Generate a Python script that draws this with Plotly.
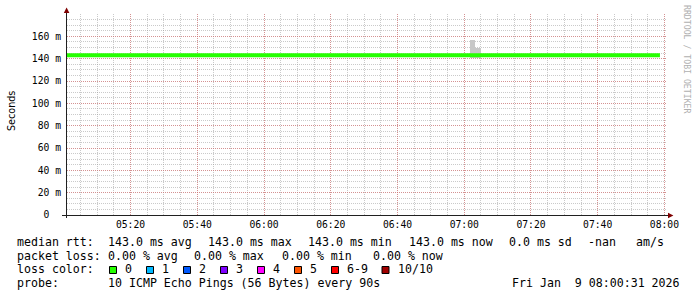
import plotly.graph_objects as go
import pandas as pd

# ---------------- data ----------------
DAY = "2026-01-09 "
x_range = ["05:00:58", "08:00:46"]
y_range = [0, 180]

median_times = ["05:00:58", "07:58:39"]
median_values = [143.0, 143.0]

smoke_start = ["07:01:43", "07:03:08"]
smoke_end = ["07:03:08", "07:04:56"]
smoke_low = [141.0, 141.0]
smoke_high = [157.0, 150.0]

x_tick_labels = ["05:20", "05:40", "06:00", "06:20", "06:40", "07:00", "07:20", "07:40", "08:00"]
y_tick_values = [0, 20, 40, 60, 80, 100, 120, 140, 160]
y_tick_labels = ["0\u00a0\u00a0", "20\u00a0m", "40\u00a0m", "60\u00a0m", "80\u00a0m",
                 "100\u00a0m", "120\u00a0m", "140\u00a0m", "160\u00a0m"]

rtt_label = "median rtt:"
rtt_items = ["143.0 ms avg", "143.0 ms max", "143.0 ms min", "143.0 ms now",
             "0.0 ms sd", "-nan", "am/s"]
loss_label = "packet loss:"
loss_items = ["0.00 % avg", "0.00 % max", "0.00 % min", "0.00 % now"]
color_label = "loss color:"
loss_color_labels = ["0", "1", "2", "3", "4", "5", "6-9", "10/10"]
loss_colors = ["#26ff00", "#00b8ff", "#0059ff", "#7e00ff", "#ff00ff", "#ff5500", "#ff0000", "#a10000"]
probe_label = "probe:"
probe_text = "10 ICMP Echo Pings (56 Bytes) every 90s"
date_text = "Fri Jan\u00a0\u00a09 08:00:31 2026"
y_title = "Seconds"
watermark = "RRDTOOL / TOBI OETIKER"

# ---------------- layout geometry (pixels) ----------------
W, H = 697, 297
L, R, T, B = 67, 30, 14, 82
PW, PH = W - L - R, H - T - B


def px(x):
    return (x - L) / PW


def py(y):
    return (H - B - y) / PH


MONO = "DejaVu Sans Mono"
LEG_FONT = dict(family=MONO, size=11.6, color="#000000")
AX_FONT = dict(family=MONO, size=9.7, color="#000000")
GRID_MINOR = "rgba(150,150,150,0.5)"
GRID_MAJOR = "rgba(220,100,100,0.55)"

fig = go.Figure()

# smoke
s0 = pd.to_datetime([DAY + t for t in smoke_start])
s1 = pd.to_datetime([DAY + t for t in smoke_end])
centers = s0 + (s1 - s0) / 2
widths = [(b - a).total_seconds() * 1000 for a, b in zip(s0, s1)]
fig.add_trace(go.Bar(
    x=centers, y=[h - l for h, l in zip(smoke_high, smoke_low)], base=smoke_low,
    width=widths, marker=dict(color="#c8c8c8", line=dict(width=0)),
    hoverinfo="skip", showlegend=False))

# median line
fig.add_trace(go.Scatter(
    x=[DAY + t for t in median_times], y=median_values, mode="lines",
    line=dict(color=loss_colors[0], width=4), showlegend=False, hoverinfo="skip"))

fig.update_layout(
    width=W, height=H, margin=dict(l=L, r=R, t=T, b=B, pad=0),
    paper_bgcolor="white", plot_bgcolor="white", showlegend=False, bargap=0,
    xaxis=dict(
        type="date", range=[DAY + x_range[0], DAY + x_range[1]],
        tickmode="array", tickvals=[DAY + t for t in x_tick_labels], ticktext=x_tick_labels,
        showgrid=True, gridcolor=GRID_MAJOR, griddash="1px,1px", gridwidth=1,
        minor=dict(tickmode="linear", tick0=DAY + "05:00:00", dtick=300000,
                   showgrid=True, gridcolor=GRID_MINOR, griddash="1px,1px", gridwidth=1),
        showline=False, zeroline=False, ticks="", tickfont=AX_FONT, ticklabelstandoff=2,
        fixedrange=True,
    ),
    yaxis=dict(
        range=y_range, tickmode="array", tickvals=y_tick_values, ticktext=y_tick_labels,
        showgrid=True, gridcolor=GRID_MAJOR, griddash="1px,1px", gridwidth=1,
        minor=dict(tickmode="linear", tick0=0, dtick=5,
                   showgrid=True, gridcolor=GRID_MINOR, griddash="1px,1px", gridwidth=1),
        showline=False, zeroline=False, ticks="", tickfont=AX_FONT, ticklabelstandoff=5,
        fixedrange=True,
    ),
)

shapes = []
# axes
shapes.append(dict(type="line", xref="paper", yref="paper", x0=px(62), x1=px(669),
                   y0=py(215.5), y1=py(215.5), line=dict(color="#202020", width=1)))
shapes.append(dict(type="line", xref="paper", yref="paper", x0=px(66.5), x1=px(66.5),
                   y0=py(218), y1=py(12), line=dict(color="#202020", width=1)))
# arrows
shapes.append(dict(type="path", xref="paper", yref="paper",
                   path=f"M {px(63.8)} {py(13)} L {px(69.4)} {py(13)} L {px(66.6)} {py(7.6)} Z",
                   fillcolor="#7f0000", line=dict(width=0)))
shapes.append(dict(type="path", xref="paper", yref="paper",
                   path=f"M {px(668)} {py(212.7)} L {px(668)} {py(218.3)} L {px(673.4)} {py(215.5)} Z",
                   fillcolor="#7f0000", line=dict(width=0)))

annotations = []


def txt(x, y, s, font=LEG_FONT, xanchor="left", **kw):
    annotations.append(dict(x=px(x), y=py(y), xref="paper", yref="paper", text=s,
                            showarrow=False, xanchor=xanchor, yanchor="middle",
                            font=font, borderpad=0, **kw))


ROW = [241.7, 255.5, 269.3, 283.3]
X0 = 16
XC = 107.3

txt(X0, ROW[0], rtt_label)
for s, x in zip(rtt_items, [XC, 207.3, 307.3, 407.7, 507.7, 586.7, 635]):
    txt(x, ROW[0], s)

txt(X0, ROW[1], loss_label)
for s, x in zip(loss_items, [XC, 193.3, 280.5, 372]):
    txt(x, ROW[1], s)

txt(X0, ROW[2], color_label)
box_x = [109, 146, 183, 220, 257, 294, 331, 381.5]
for lab, col, bx in zip(loss_color_labels, loss_colors, box_x):
    shapes.append(dict(type="rect", xref="paper", yref="paper",
                       x0=px(bx + 0.5), x1=px(bx + 7.5), y0=py(266.5), y1=py(273.5),
                       fillcolor=col, line=dict(color="#000000", width=1)))
    txt(bx + 15, ROW[2], lab)

txt(X0, ROW[3], probe_label)
txt(XC, ROW[3], probe_text)
txt(681, ROW[3], date_text, xanchor="right")

# y title
annotations.append(dict(x=px(11), y=py(111), xref="paper", yref="paper", text=y_title,
                        showarrow=False, textangle=-90, xanchor="center", yanchor="middle",
                        font=dict(family="DejaVu Sans", size=9.6, color="#000000")))
# watermark
annotations.append(dict(x=px(687.5), y=py(59.5), xref="paper", yref="paper", text=watermark,
                        showarrow=False, textangle=90, xanchor="center", yanchor="middle",
                        font=dict(family=MONO, size=8.2, color="#b0b0b0")))

fig.update_layout(shapes=shapes, annotations=annotations)
fig.write_html("out.html")
